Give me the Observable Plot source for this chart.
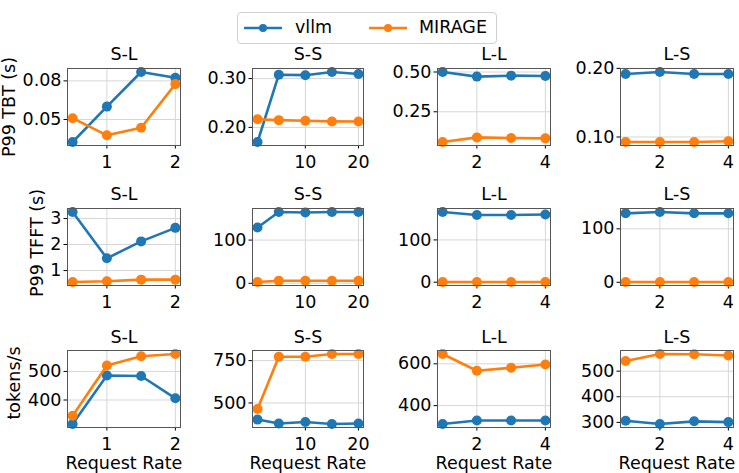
<!DOCTYPE html>
<html><head><meta charset="utf-8">
<script src="https://cdn.jsdelivr.net/npm/d3@7"></script>
<script src="https://cdn.jsdelivr.net/npm/@observablehq/plot@0.6"></script>
<style>
body{margin:0;background:#fff;font-family:"DejaVu Sans",sans-serif;}
#chart{position:relative;width:739px;height:473px;overflow:hidden;background:#fff;}
.panel{position:absolute;}
.legend{position:absolute;left:237px;top:12px;width:258px;height:30px;border:1px solid #d0d0d0;border-radius:4px;background:#fff;}
.sw{position:absolute;top:8px;}
.lt{position:absolute;top:3px;font-size:17.5px;color:#000;line-height:22px;}
</style></head><body><div id="chart"></div>
<script>
const configs = ["S-L", "S-S", "L-L", "L-S"];
const series = ["vllm", "MIRAGE"];
const colors = ["#1f77b4", "#ff7f0e"];
const rateSL = [0.5, 1, 1.5, 2];
const rateSS = [1, 5, 10, 15, 20];
const rateLL = [1, 2, 3, 4];
const rateLS = [1, 2, 3, 4];
const xTicks = [[1, 2], [10, 20], [2, 4], [2, 4]];

const tbtVllm = [[0.0325, 0.060, 0.0869, 0.0825], [0.170, 0.308, 0.307, 0.3135, 0.3095], [0.500, 0.471, 0.477, 0.475], [0.1917, 0.1947, 0.1917, 0.1917]];
const tbtMirage = [[0.051, 0.0377, 0.0436, 0.0775], [0.2167, 0.2148, 0.2135, 0.2122, 0.212], [0.060, 0.089, 0.085, 0.083], [0.0927, 0.0927, 0.0927, 0.0937]];
const tbtTicks = [[0.05, 0.08], [0.20, 0.30], [0.25, 0.50], [0.10, 0.20]];

const tfftVllm = [[3.25, 1.47, 2.12, 2.64], [129, 165, 164, 165, 165], [166, 159, 159, 160], [129, 131.5, 129, 129]];
const tfftMirage = [[0.56, 0.59, 0.65, 0.65], [3, 6, 6, 6, 6], [0.5, 0.6, 0.6, 0.6], [0.5, 0.5, 0.5, 0.5]];
const tfftTicks = [[1, 2, 3], [0, 100], [0, 100], [0, 100]];

const tokVllm = [[316, 486, 484, 406], [402, 379, 388, 376, 379], [312, 329, 329, 329], [306.6, 293.6, 304, 301]];
const tokMirage = [[345, 521, 553, 561], [465, 773, 773, 789, 789], [647, 567, 581, 597], [540, 567, 566, 561]];
const tokTicks = [[400, 500], [500, 750], [400, 600], [300, 400, 500]];

const rowLabels = ["P99 TBT (s)", "P99 TFFT (s)", "tokens/s"];
const xLabel = "Request Rate";

const rates = [rateSL, rateSS, rateLL, rateLS];
const metrics = [
  {vllm: tbtVllm, mirage: tbtMirage, ticks: tbtTicks, fmt: d3.format(".2f")},
  {vllm: tfftVllm, mirage: tfftMirage, ticks: tfftTicks, fmt: d3.format("d")},
  {vllm: tokVllm, mirage: tokMirage, ticks: tokTicks, fmt: d3.format("d")}
];

// layout
const colFrames = [[67, 180], [252, 363], [437, 550], [620, 733]];
const rowFrames = [[68, 145], [208, 285], [350, 427]];
const yLabelDx = [-58, -30, -53];
const yLabelDy = [0, -4, -6];
const titleDy = [-9, -9, -8];

function pad(vals) {
  const [a, b] = d3.extent(vals);
  const m = (b - a) * 0.05;
  return [a - m, b + m];
}

const chart = document.getElementById("chart");

metrics.forEach((met, r) => {
  configs.forEach((cfg, c) => {
    const xs = rates[c];
    const dataV = xs.map((x, i) => ({x, y: met.vllm[c][i]}));
    const dataM = xs.map((x, i) => ({x, y: met.mirage[c][i]}));
    const ml = c === 0 ? 67 : 55;
    const mr = 16, mt = 30, mb = r === 2 ? 50 : 30;
    const fw = colFrames[c][1] - colFrames[c][0];
    const fh = rowFrames[r][1] - rowFrames[r][0];
    const marks = [
      Plot.gridX(xTicks[c], {stroke: "#d6d6d6", strokeOpacity: 1, strokeWidth: 1}),
      Plot.gridY(met.ticks[c], {stroke: "#d6d6d6", strokeOpacity: 1, strokeWidth: 1}),
      Plot.axisX(xTicks[c], {tickSize: 3.5, tickPadding: 7, label: null}),
      Plot.axisY(met.ticks[c], {tickSize: 3.5, tickPadding: 2.5, tickFormat: met.fmt, label: null}),
      Plot.line(dataV, {x: "x", y: "y", stroke: colors[0], strokeWidth: 2.6}),
      Plot.dot(dataV, {x: "x", y: "y", fill: colors[0], r: 5}),
      Plot.line(dataM, {x: "x", y: "y", stroke: colors[1], strokeWidth: 2.6}),
      Plot.dot(dataM, {x: "x", y: "y", fill: colors[1], r: 5}),
      Plot.frame({stroke: "#555", strokeWidth: 1}),
      Plot.text([cfg], {frameAnchor: "top", dy: titleDy[r], lineAnchor: "bottom", fill: "#000"})
    ];
    if (r === 2) marks.push(Plot.text([xLabel], {frameAnchor: "bottom", dy: 36, lineAnchor: "middle", fill: "#000"}));
    if (c === 0) marks.push(Plot.text([rowLabels[r]], {frameAnchor: "left", dx: yLabelDx[r], dy: yLabelDy[r], rotate: -90, lineAnchor: "middle", textAnchor: "middle", fill: "#000"}));
    const svg = Plot.plot({
      width: ml + fw + mr,
      height: mt + fh + mb,
      marginLeft: ml, marginRight: mr, marginTop: mt, marginBottom: mb,
      x: {domain: pad(xs)},
      y: {domain: pad([...met.vllm[c], ...met.mirage[c]])},
      style: {fontFamily: "DejaVu Sans", fontSize: "17.5px", color: "#000", background: "transparent", overflow: "visible"},
      marks
    });
    svg.classList.add("panel");
    svg.style.position = "absolute";
    svg.style.left = (colFrames[c][0] - ml) + "px";
    svg.style.top = (rowFrames[r][0] - mt) + "px";
    chart.appendChild(svg);
  });
});

// legend
const leg = document.createElement("div");
leg.className = "legend";
const legX = [[5, 57], [130, 181]];
series.forEach((s, i) => {
  const sw = document.createElementNS("http://www.w3.org/2000/svg", "svg");
  sw.setAttribute("width", 40); sw.setAttribute("height", 14);
  sw.setAttribute("class", "sw");
  sw.style.left = legX[i][0] + "px";
  sw.innerHTML = `<line x1="1" y1="7" x2="39" y2="7" stroke="${colors[i]}" stroke-width="2.6"/><circle cx="20" cy="7" r="4" fill="${colors[i]}"/>`;
  leg.appendChild(sw);
  const t = document.createElement("span");
  t.className = "lt";
  t.style.left = legX[i][1] + "px";
  t.textContent = s;
  leg.appendChild(t);
});
chart.appendChild(leg);
</script>
</body></html>
